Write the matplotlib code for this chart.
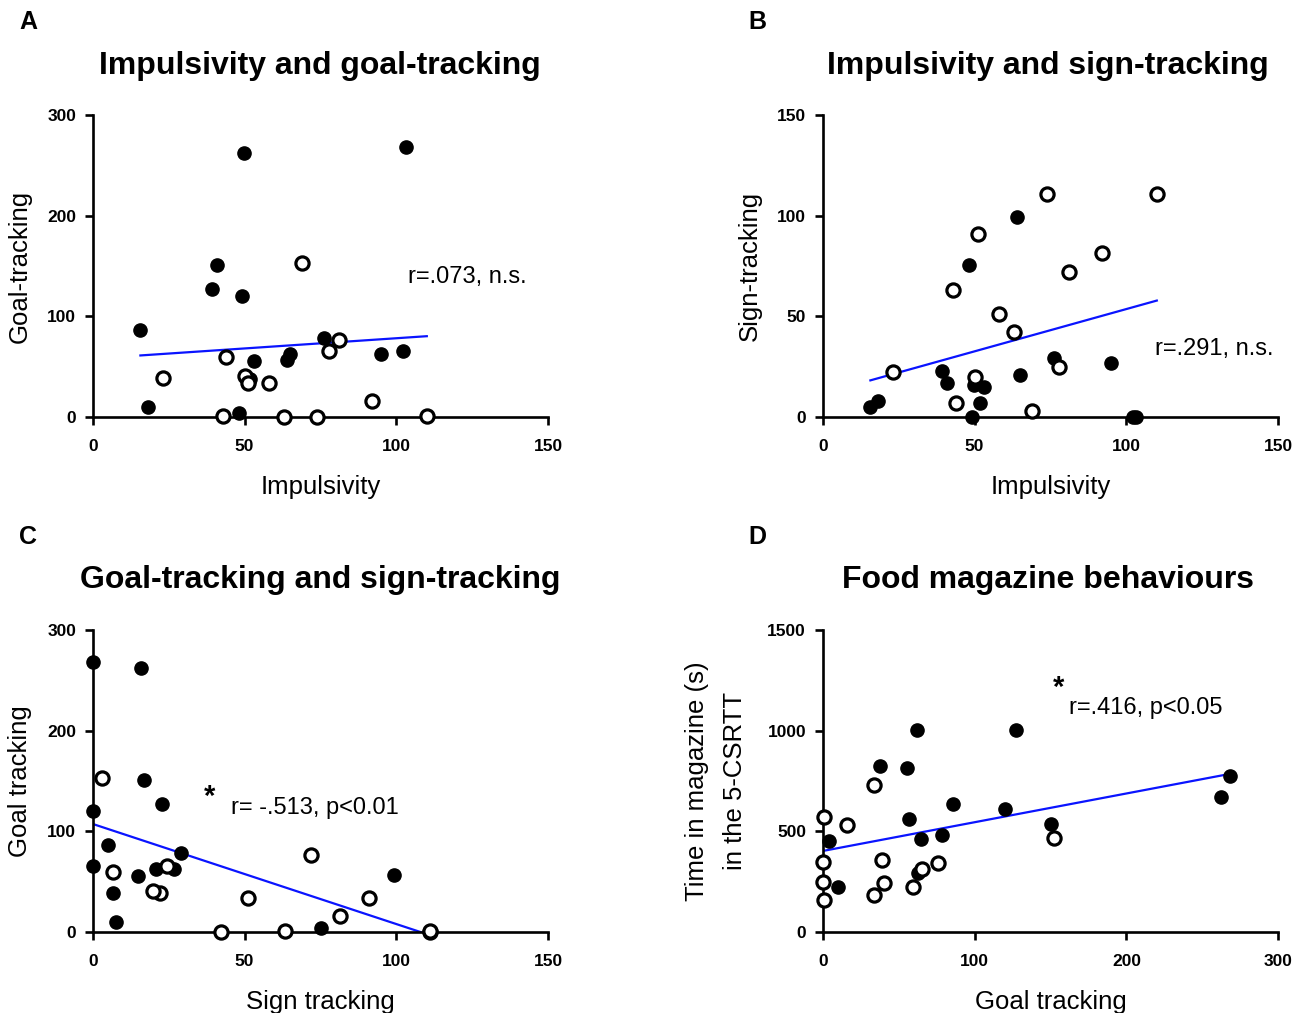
import numpy as np
import matplotlib
matplotlib.use("Agg")
import matplotlib.pyplot as plt

plt.rcParams['font.family'] = ['Liberation Sans', 'DejaVu Sans']

# ---- data (filled = one group, open = other group) ----
imp_filled = [49.9, 103, 41, 39.2, 49, 15.7, 76, 53, 65, 64, 95, 102, 18.1, 48.2, 51.8]
gt_filled = [262, 268, 150.6, 127, 120, 86, 78.6, 55.7, 62.7, 56.7, 62, 65, 10, 4, 38]
st_filled = [15.8, 0, 16.9, 22.9, 0, 5, 29, 14.8, 20.7, 99.2, 26.9, 0, 7.8, 75.3, 6.6]
mag_filled = [672, 776, 536, 1005, 609, 637, 482, 813, 291, 560, 1003, 464, 222, 454, 826]

imp_open = [69, 81.2, 77.7, 43.9, 23, 50, 51, 58, 92, 43, 63, 74, 110]
gt_open = [152.6, 76, 65.7, 59.7, 38.8, 40.5, 33.8, 33.8, 16, 0.7, 0, 0, 0.7]
st_open = [3, 72, 24.5, 6.6, 22, 20, 91, 51, 81.3, 63.3, 42.3, 111, 111]
mag_open = [465, 344, 311, 225, 358, 245, 728, 182, 533, 573, 349, 250, 159]

panel_letters = ["A", "B", "C", "D"]
titles = ["Impulsivity and goal-tracking", "Impulsivity and sign-tracking",
          "Goal-tracking and sign-tracking", "Food magazine behaviours"]
xlabels = ["Impulsivity", "Impulsivity", "Sign tracking", "Goal tracking"]
ylabels = ["Goal-tracking", "Sign-tracking", "Goal tracking",
           "Time in magazine (s)\nin the 5-CSRTT"]
annotations = ["r=.073, n.s.", "r=.291, n.s.", "r= -.513, p<0.01", "r=.416, p<0.05"]
stars = [None, None, "*", "*"]
xticks_list = [[0, 50, 100, 150], [0, 50, 100, 150], [0, 50, 100, 150], [0, 100, 200, 300]]
yticks_list = [[0, 100, 200, 300], [0, 50, 100, 150], [0, 100, 200, 300], [0, 500, 1000, 1500]]

panels = [
    (imp_filled, gt_filled, imp_open, gt_open),
    (imp_filled, st_filled, imp_open, st_open),
    (st_filled, gt_filled, st_open, gt_open),
    (gt_filled, mag_filled, gt_open, mag_open),
]

W, H = 1309, 1013
fig = plt.figure(figsize=(W / 100, H / 100), dpi=100)

# axes boxes in pixels: (left, bottom_y_pixel, right, top_y_pixel)
boxes = [(92.7, 416.7, 548.3, 115.3), (822.7, 416.7, 1278.3, 115.3),
         (92.7, 931.7, 548.3, 630.0), (822.7, 932.0, 1278.3, 630.0)]
letter_pos = [(28, 22), (757, 22), (28, 537), (757, 537)]
title_pos = [(320, 66), (1048, 66), (320, 580), (1048, 580)]
ann_pos = [(408, 277), (1155, 349), (231, 808), (1069, 708)]
star_pos = [None, None, (210, 797), (1059, 688)]
ylabel_x = [20, 750, 20, 716]

for i in range(4):
    l, b, r, t = boxes[i]
    ax = fig.add_axes([l / W, (H - b) / H, (r - l) / W, (b - t) / H])
    xf, yf, xo, yo = panels[i]
    xt, yt = xticks_list[i], yticks_list[i]

    ax.plot(xf, yf, 'o', ms=9.5, color='black', mec='black', clip_on=False, zorder=3)
    ax.plot(xo, yo, 'o', ms=9.5, mfc='white', mec='black', mew=2.3, clip_on=False, zorder=4)

    xall = np.array(xf + xo, dtype=float)
    yall = np.array(yf + yo, dtype=float)
    slope, inter = np.polyfit(xall, yall, 1)
    xs = np.array([xall.min(), xall.max()])
    ax.plot(xs, slope * xs + inter, color='#0a14ff', lw=1.6, zorder=2)

    ax.set_xlim(xt[0], xt[-1])
    ax.set_ylim(yt[0], yt[-1])
    ax.set_xticks(xt)
    ax.set_yticks(yt)
    ax.set_xticklabels([str(v) for v in xt], fontsize=12.5, fontweight='bold')
    ax.set_yticklabels([str(v) for v in yt], fontsize=12.5, fontweight='bold')
    for s in ['top', 'right']:
        ax.spines[s].set_visible(False)
    for s in ['left', 'bottom']:
        ax.spines[s].set_linewidth(1.9)
    ax.tick_params(axis='x', direction='out', length=6, width=1.9, pad=10)
    ax.tick_params(axis='y', direction='out', length=6, width=1.9, pad=6)
    ax.set_xlabel(xlabels[i], fontsize=18.5, labelpad=15)
    ax.patch.set_alpha(0)

    # y label
    cy = (t + b) / 2
    fig.text(ylabel_x[i] / W, 1 - cy / H, ylabels[i], rotation=90, fontsize=18.5,
             ha='center', va='center', linespacing=1.75)

    fig.text(letter_pos[i][0] / W, 1 - letter_pos[i][1] / H, panel_letters[i],
             fontsize=18, fontweight='bold', ha='center', va='center')
    fig.text(title_pos[i][0] / W, 1 - title_pos[i][1] / H, titles[i],
             fontsize=23, fontweight='bold', ha='center', va='center')
    fig.text(ann_pos[i][0] / W, 1 - ann_pos[i][1] / H, annotations[i],
             fontsize=17, ha='left', va='center')
    if stars[i]:
        fig.text(star_pos[i][0] / W, 1 - star_pos[i][1] / H, stars[i],
                 fontsize=21, fontweight='bold', ha='center', va='center')

fig.savefig("out.png", dpi=100)
